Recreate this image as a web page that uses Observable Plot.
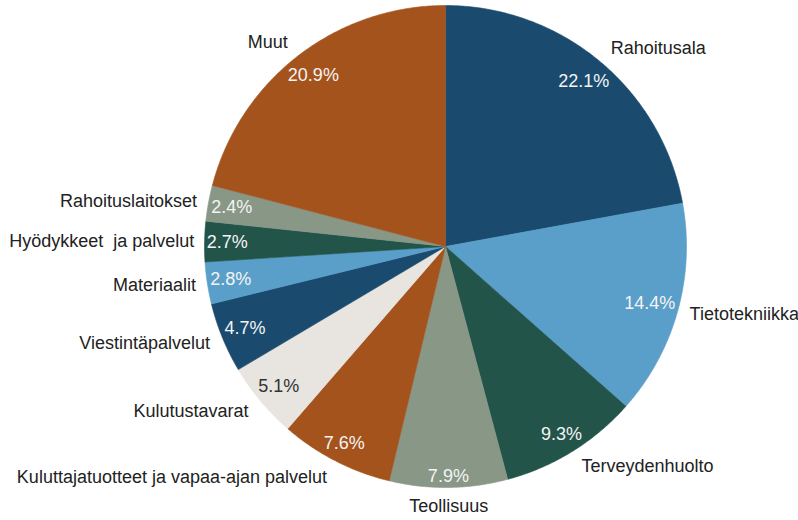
<!DOCTYPE html>
<html>
<head>
<meta charset="utf-8">
<script src="https://cdn.jsdelivr.net/npm/d3@7"></script>
<script src="https://cdn.jsdelivr.net/npm/@observablehq/plot@0.6"></script>
<style>
  html, body { margin: 0; padding: 0; background: #ffffff; }
  #chart { width: 798px; height: 520px; }
</style>
</head>
<body>
<div id="chart"></div>
<script>
// ---- data ----
const categories = [
  "Rahoitusala", "Tietotekniikka", "Terveydenhuolto", "Teollisuus",
  "Kuluttajatuotteet ja vapaa-ajan palvelut", "Kulutustavarat",
  "Viestintäpalvelut", "Materiaalit", "Hyödykkeet  ja palvelut",
  "Rahoituslaitokset", "Muut"
];
const shares = [22.1, 14.4, 9.3, 7.9, 7.6, 5.1, 4.7, 2.8, 2.7, 2.4, 20.9];
const sliceColors = [
  "#1a4b6e", "#5a9fc9", "#22544a", "#889786", "#a4531c", "#e8e4df",
  "#1a4b6e", "#5a9fc9", "#22544a", "#889786", "#a4531c"
];

// ---- layout ----
const W = 798, H = 520;
const cx = 445, cy = 246, R = 241;
const pctFont = 18, nameFont = 18;
const fontFamily = "Liberation Sans, Arial, sans-serif";

const ctx = document.createElement("canvas").getContext("2d");
function textWidth(t, size) { ctx.font = `${size}px ${fontFamily}`; return ctx.measureText(t).width; }

const arcs = d3.pie().sort(null).value(d => d)(shares);
const fmt = v => d3.format(".1f")(v) + "%";

const slices = arcs.map((a, i) => {
  const pts = [{x: 0, y: 0}];
  const n = Math.max(4, Math.ceil((a.endAngle - a.startAngle) / (Math.PI / 360)));
  for (let k = 0; k <= n; k++) {
    const t = a.startAngle + (a.endAngle - a.startAngle) * k / n;
    pts.push({x: Math.sin(t), y: Math.cos(t)});
  }
  pts.push({x: 0, y: 0});
  return {name: categories[i], color: sliceColors[i], pts};
});

const labels = arcs.map((a, i) => {
  const m = (a.startAngle + a.endAngle) / 2;
  const s = Math.sin(m), c = Math.cos(m);
  const txt = fmt(shares[i]);
  const w = textWidth(txt, pctFont), h = pctFont;
  const rp = (R - 2 - (Math.abs(s) * w / 2 + Math.abs(c) * h * 0.5)) / R;
  const rn = (R + 10 + Math.abs(c) * nameFont / 2) / R;
  const anchor = s > 0.1 ? "start" : s < -0.1 ? "end" : "middle";
  return {
    name: categories[i], pct: txt,
    px: rp * s, py: rp * c,
    nx: rn * s, ny: rn * c,
    anchor,
    pctColor: sliceColors[i] === "#e8e4df" ? "#333333" : "#f4f4f4"
  };
});

const marks = slices.map(s =>
  Plot.line(s.pts, {x: "x", y: "y", fill: s.color, stroke: s.color, strokeWidth: 0.6})
);
marks.push(
  Plot.text(labels, {x: "px", y: "py", text: "pct", fill: "pctColor",
    fontSize: pctFont, textAnchor: "middle", lineAnchor: "middle"})
);
for (const anc of ["start", "end", "middle"]) {
  marks.push(
    Plot.text(labels.filter(d => d.anchor === anc), {x: "nx", y: "ny", text: "name",
      fill: "#222222", fontSize: nameFont, textAnchor: anc, lineAnchor: "middle"})
  );
}

const chart = Plot.plot({
  width: W, height: H,
  margin: 0,
  style: {background: "#ffffff", fontFamily: fontFamily, overflow: "visible"},
  x: {domain: [-1, 1], range: [cx - R, cx + R], axis: null},
  y: {domain: [-1, 1], range: [cy + R, cy - R], axis: null},
  marks
});
document.getElementById("chart").appendChild(chart);
</script>
</body>
</html>
